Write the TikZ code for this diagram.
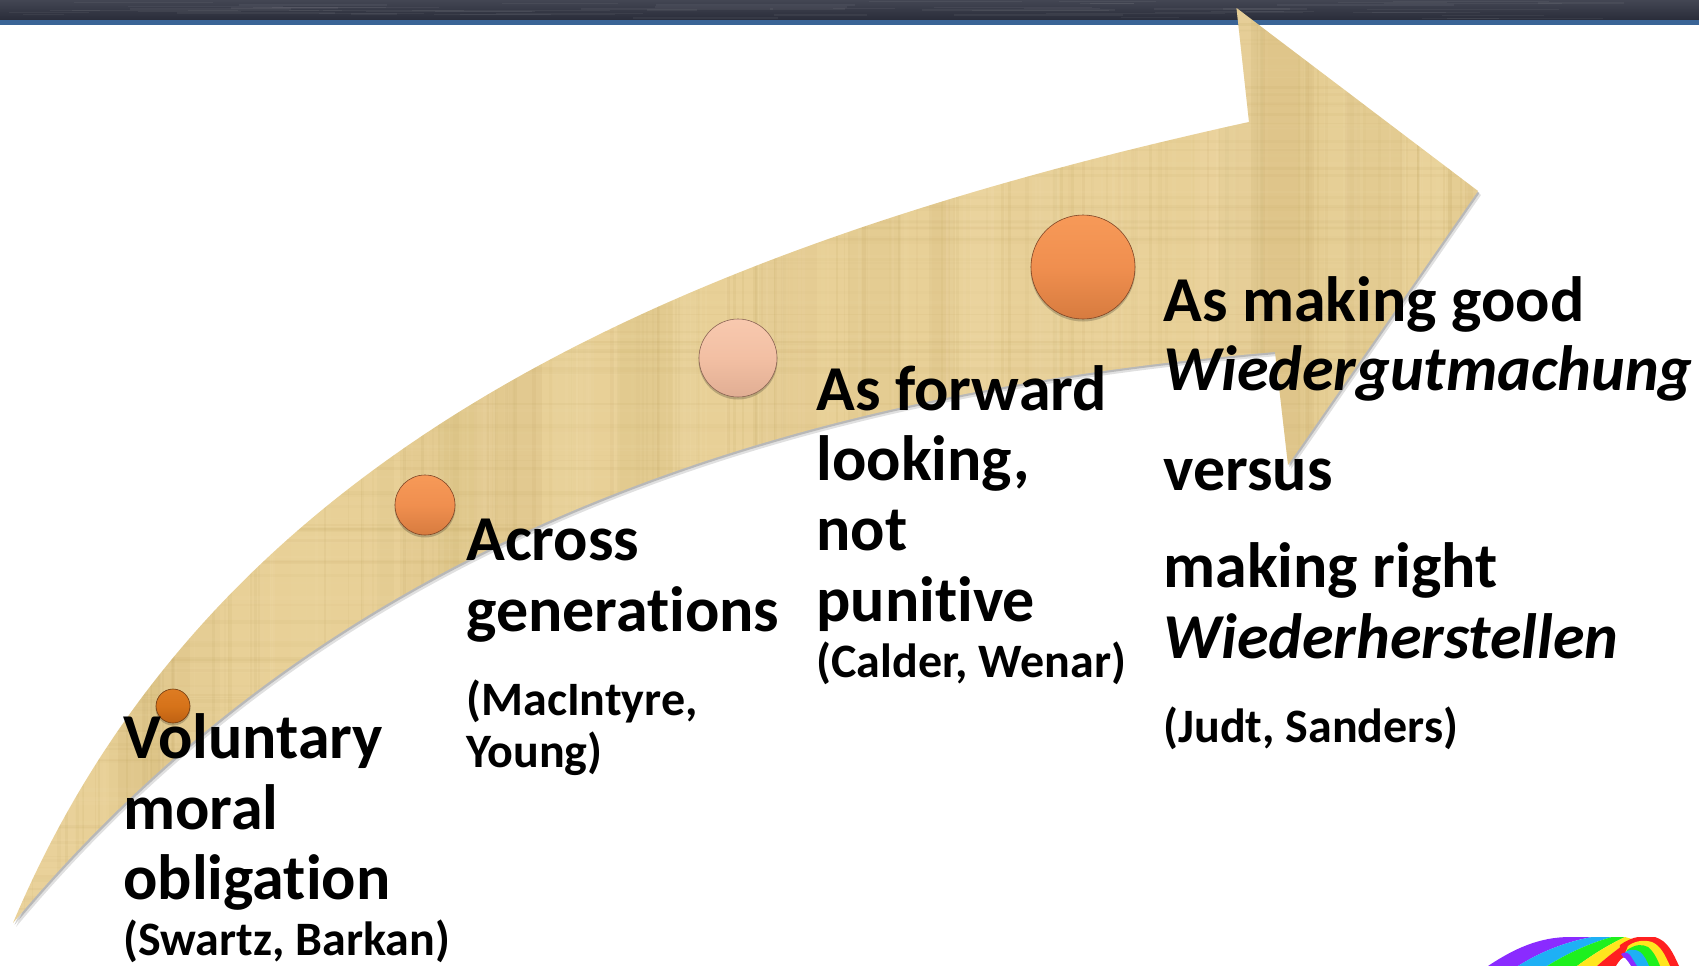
\documentclass[tikz,border=0pt]{standalone}
\usepackage{fontspec}
\setmainfont[Ligatures=NoCommon]{Carlito}
\usetikzlibrary{shapes.geometric}
\definecolor{papyrus}{HTML}{E8D097}
\definecolor{papdark}{HTML}{B89C55}
\definecolor{paplight}{HTML}{F6E4B8}
\definecolor{bandtop}{HTML}{434653}
\definecolor{bandlow}{HTML}{292C39}
\definecolor{bandblue}{HTML}{3A6496}
\definecolor{rbv}{HTML}{8A2BFF}
\definecolor{rbb}{HTML}{1EB0F5}
\definecolor{rbg}{HTML}{1EF01E}
\definecolor{rby}{HTML}{FFE61E}
\definecolor{rbr}{HTML}{FF2020}
\definecolor{orim}{HTML}{7E4526}
\definecolor{drim}{HTML}{703A10}
\definecolor{prim}{HTML}{8A6454}
\pgfdeclareverticalshading{oballshade}{100bp}{
  color(0bp)=(black!0!orim); color(5bp)=(black!0!orim);
  rgb(14bp)=(0.80,0.45,0.22); rgb(50bp)=(0.94,0.56,0.31);
  rgb(86bp)=(0.98,0.62,0.36); rgb(94bp)=(0.99,0.74,0.53); rgb(100bp)=(0.96,0.64,0.42)}
\pgfdeclareverticalshading{dballshade}{100bp}{
  color(0bp)=(black!0!drim); color(5bp)=(black!0!drim);
  rgb(14bp)=(0.70,0.35,0.06); rgb(50bp)=(0.84,0.45,0.10);
  rgb(86bp)=(0.88,0.50,0.15); rgb(94bp)=(0.94,0.64,0.37); rgb(100bp)=(0.87,0.52,0.19)}
\pgfdeclareverticalshading{pballshade}{100bp}{
  color(0bp)=(black!0!prim); color(5bp)=(black!0!prim);
  rgb(14bp)=(0.85,0.65,0.55); rgb(50bp)=(0.95,0.75,0.64);
  rgb(84bp)=(0.98,0.80,0.70); rgb(94bp)=(1,0.94,0.90); rgb(100bp)=(0.98,0.85,0.77)}
\tikzset{
  big/.style={anchor=base west,inner sep=0pt,font=\fontsize{32}{38}\selectfont\bfseries},
  bigit/.style={anchor=base west,inner sep=0pt,font=\fontsize{32}{38}\selectfont\bfseries\itshape},
  small/.style={anchor=base west,inner sep=0pt,font=\fontsize{24}{28}\selectfont\bfseries},
  ball/.style={circle,inner sep=0pt,line width=0.3pt,shade},
  orangeball/.style={ball,draw=orim,shading=oballshade},
  darkball/.style={ball,draw=drim,shading=dballshade},
  pinkball/.style={ball,draw=prim,shading=pballshade},
}
\newcommand{\arrowoutline}{(13,923) .. controls (200,480) and (620,260) .. (1249,122)
  -- (1236.5,8) -- (1478,191) -- (1288,465) -- (1275,352)
  .. controls (700,400) and (300,580) .. (13,923) -- cycle}
\begin{document}
\begin{tikzpicture}[x=0.5pt,y=-0.5pt]
\useasboundingbox (0,0) rectangle (1699,965);
% header band
\shade[top color=bandtop,bottom color=bandlow] (0,0) rectangle (1699,20);
\pgfmathsetseed{77}
\foreach \i in {1,...,60}{
  \pgfmathsetmacro{\hx}{rnd*1600}
  \pgfmathsetmacro{\hy}{1+rnd*17}
  \pgfmathsetmacro{\hw}{40+rnd*160}
  \fill[white,opacity=0.05] (\hx,\hy) rectangle (\hx+\hw,\hy+1.2);
}
\fill[bandblue] (0,20) rectangle (1699,25);
% arrow shadow
\fill[black,opacity=0.12] [shift={(3,4)}] \arrowoutline;
\fill[black,opacity=0.18] [shift={(1.5,2)}] \arrowoutline;
% arrow with woven texture
\begin{scope}
\clip \arrowoutline;
\fill[papyrus] (0,0) rectangle (1699,965);
\pgfmathsetseed{4711}
\foreach \i in {1,...,40}{
  \pgfmathsetmacro{\px}{rnd*1500}
  \pgfmathsetmacro{\pw}{15+rnd*50}
  \pgfmathsetmacro{\po}{0.04+rnd*0.08}
  \pgfmathtruncatemacro{\pk}{rnd*2}
  \ifnum\pk=0
    \fill[papdark,opacity=\po] (\px,0) rectangle (\px+\pw,965);
  \else
    \fill[paplight,opacity=\po] (\px,0) rectangle (\px+\pw,965);
  \fi
}
\foreach \i in {1,...,260}{
  \pgfmathsetmacro{\px}{rnd*1500}
  \pgfmathsetmacro{\pw}{1+rnd*3}
  \pgfmathsetmacro{\po}{0.03+rnd*0.09}
  \pgfmathtruncatemacro{\pk}{rnd*2}
  \ifnum\pk=0
    \fill[papdark,opacity=\po] (\px,0) rectangle (\px+\pw,965);
  \else
    \fill[paplight,opacity=\po] (\px,0) rectangle (\px+\pw,965);
  \fi
}
\foreach \i in {1,...,180}{
  \pgfmathsetmacro{\py}{rnd*965}
  \pgfmathsetmacro{\pw}{1+rnd*3}
  \pgfmathsetmacro{\po}{0.02+rnd*0.07}
  \pgfmathtruncatemacro{\pk}{rnd*2}
  \ifnum\pk=0
    \fill[papdark,opacity=\po] (0,\py) rectangle (1699,\py+\pw);
  \else
    \fill[paplight,opacity=\po] (0,\py) rectangle (1699,\py+\pw);
  \fi
}
\end{scope}
% rainbow
\begin{scope}
\clip (1400,937) rectangle (1699,965);
\fill[rbv] (1488,966) .. controls (1515,948) and (1540,937) .. (1570,937) -- (1592,937) .. controls (1565,942) and (1540,952) .. (1518,966) -- cycle;
\fill[rbb] (1518,966) .. controls (1540,952) and (1565,942) .. (1592,937) -- (1612,937) .. controls (1590,943) and (1568,953) .. (1547,966) -- cycle;
\fill[rbg] (1547,966) .. controls (1568,953) and (1590,943) .. (1612,937) -- (1625,937) .. controls (1608,945) and (1592,955) .. (1577,966) -- cycle;
\fill[rby] (1577,966) .. controls (1592,955) and (1608,945) .. (1625,937) -- (1632,939) .. controls (1620,947) and (1607,957) .. (1597,966) -- cycle;
\fill[rbr] (1597,966) .. controls (1607,957) and (1620,947) .. (1632,939) -- (1640,942) .. controls (1632,950) and (1624,958) .. (1618,966) -- cycle;
% second arch
\fill[rbr] (1620,945) .. controls (1632,936) and (1645,935) .. (1655,937) .. controls (1668,941) and (1673,953) .. (1679,966) -- (1618,966) -- cycle;
\fill[rby] (1628,946) .. controls (1636,940) and (1645,940) .. (1652,942) .. controls (1661,946) and (1665,955) .. (1670,966) -- (1620,966) -- cycle;
\fill[rbg] (1627,950) .. controls (1636,944) and (1642,944) .. (1648,947) .. controls (1653,951) and (1657,958) .. (1660,966) -- (1626,966) -- cycle;
\fill[rbb] (1625,952) .. controls (1630,949) and (1636,949) .. (1640,952) .. controls (1644,955) and (1647,961) .. (1649,966) -- (1628,966) -- cycle;
\fill[rbv] (1621,954) .. controls (1624,952) and (1627,952) .. (1630,955) .. controls (1632,958) and (1635,963) .. (1637,966) -- (1630,966) -- cycle;
\fill[white] (1616,966) .. controls (1620,960) and (1622,957) .. (1625,958) .. controls (1627,960) and (1629,963) .. (1631,966) -- cycle;
\end{scope}
% balls
\fill[black,opacity=0.2] (173,708) circle (17.5);
\fill[black,opacity=0.2] (425,507) circle (30.5);
\fill[black,opacity=0.2] (738,360) circle (39.5);
\fill[black,opacity=0.2] (1083,269) circle (52.5);
\node[darkball,minimum size=17pt] (b1) at (173,706) {};
\node[orangeball,minimum size=30pt] (b2) at (425,505) {};
\node[pinkball,minimum size=39pt] (b3) at (738,358) {};
\node[orangeball,minimum size=52pt] (b4) at (1083,267) {};
% texts
\node[big] (t1a) at (123,758) {Voluntary};
\node[big] (t1b) at (123,829) {moral};
\node[big] (t1c) at (123,899) {obligation};
\node[small] (t1d) at (123,955) {(Swartz, Barkan)};
\node[big] (t2a) at (466,560) {Across};
\node[big] (t2b) at (466,631) {generations};
\node[small] (t2c) at (466,715) {(MacIntyre,};
\node[small] (t2d) at (466,767) {Young)};
\node[big] (t3a) at (816,410) {As forward};
\node[big] (t3b) at (816,480) {looking,};
\node[big] (t3c) at (816,550) {not};
\node[big] (t3d) at (816,621) {punitive};
\node[small] (t3e) at (816,677) {(Calder, Wenar)};
\node[big] (t4a) at (1163,321) {As making good};
\node[bigit] (t4b) at (1163,390) {Wiedergutmachung};
\node[big] (t4c) at (1163,490) {versus};
\node[big] (t4d) at (1163,587) {making right};
\node[bigit] (t4e) at (1163,658) {Wiederherstellen};
\node[small] (t4f) at (1163,742) {(Judt, Sanders)};
\end{tikzpicture}
\end{document}
